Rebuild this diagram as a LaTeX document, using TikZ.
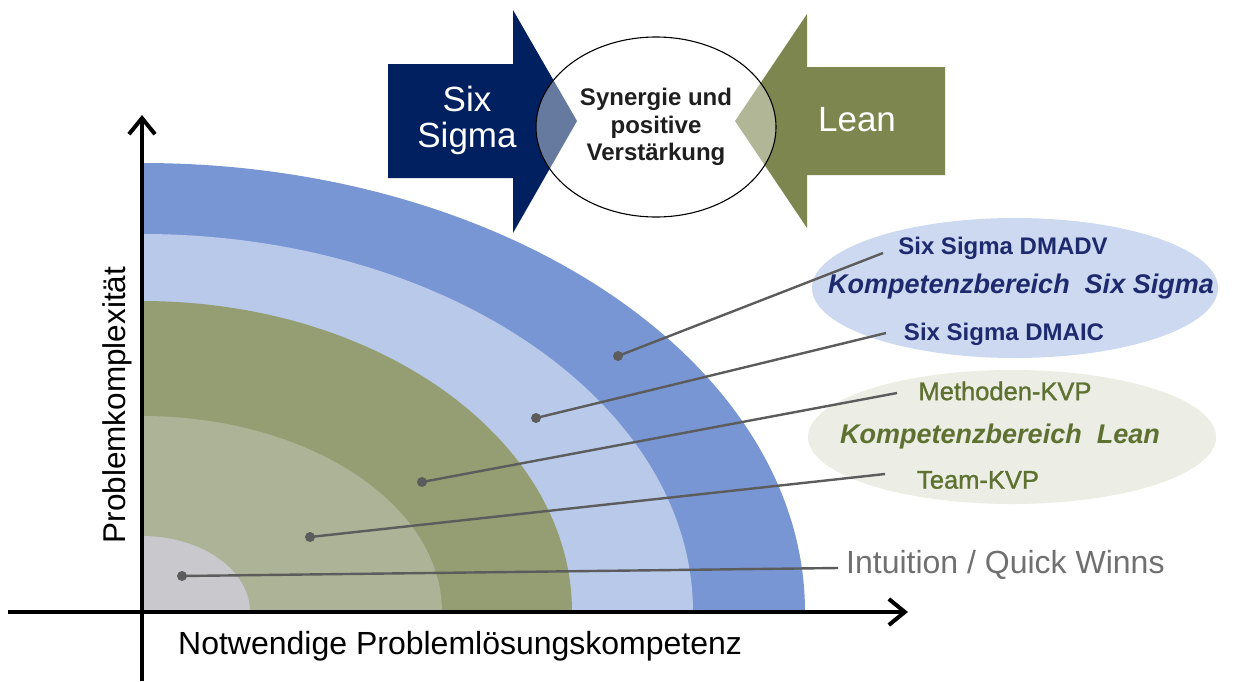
\documentclass[tikz,border=0pt]{standalone}
\usepackage{fontspec}
\setmainfont{Liberation Sans}
\newfontfamily\semibfont[FakeBold=1.2]{Liberation Sans}
\usetikzlibrary{arrows.meta,shapes.geometric}
\definecolor{bandA}{HTML}{7896D4}
\definecolor{bandB}{HTML}{B8C9EA}
\definecolor{bandC}{HTML}{949E72}
\definecolor{bandD}{HTML}{ACB396}
\definecolor{bandE}{HTML}{C8C8CD}
\definecolor{navy}{HTML}{002060}
\definecolor{leangreen}{HTML}{7E8650}
\definecolor{navytext}{HTML}{1E2A6E}
\definecolor{greentext}{HTML}{5E7131}
\definecolor{conngray}{HTML}{5C5C5C}
\definecolor{ssfill}{HTML}{CDD9F0}
\definecolor{leanfill}{HTML}{ECEDE4}
\definecolor{quickgray}{HTML}{707070}
\begin{document}
\begin{tikzpicture}[x=1pt,y=-1pt,
  axis/.style={line width=4pt,black,-{Straight Barb[length=16pt,width=26pt]}},
  dotnode/.style={circle,fill=conngray,minimum size=10pt,inner sep=0pt},
  conn/.style={conngray,line width=2.4pt},
  sslab/.style={text=navytext,font=\bfseries\fontsize{24}{28}\selectfont,inner sep=0pt},
  sshead/.style={text=navytext,font=\bfseries\itshape\fontsize{27}{30}\selectfont,inner sep=0pt},
  leanlab/.style={text=greentext,font=\semibfont\fontsize{25.5}{28}\selectfont,inner sep=0pt},
  leanhead/.style={text=greentext,font=\bfseries\itshape\fontsize{27}{30}\selectfont,inner sep=0pt},
  axlab/.style={text=black,inner sep=0pt},
  bigwhite/.style={text=white,font=\fontsize{35}{36}\selectfont,align=center,inner sep=0pt}
]
\useasboundingbox[fill=white] (0,0) rectangle (1233,681);

% quarter-ellipse bands
\fill[bandA] (142,612) -- (142,163) arc[start angle=90,end angle=0,x radius=663pt,y radius=449pt] -- cycle;
\fill[bandB] (142,612) -- (142,234) arc[start angle=90,end angle=0,x radius=551pt,y radius=378pt] -- cycle;
\fill[bandC] (142,612) -- (142,301) arc[start angle=90,end angle=0,x radius=430pt,y radius=311pt] -- cycle;
\fill[bandD] (142,612) -- (142,416) arc[start angle=90,end angle=0,x radius=300pt,y radius=196pt] -- cycle;
\fill[bandE] (142,612) -- (142,536) arc[start angle=90,end angle=0,x radius=108pt,y radius=76pt] -- cycle;

% label ellipses
\node[ellipse,fill=ssfill,minimum width=406pt,minimum height=140pt,inner sep=0pt] (ssell) at (1015,288) {};
\node[ellipse,fill=leanfill,minimum width=408pt,minimum height=134pt,inner sep=0pt] (leanell) at (1012,437) {};

% labels
\node[sslab] (t1) at (1003,248) {Six Sigma DMADV};
\node[sshead] (kss) at (1021,287) {Kompetenzbereich\ \ Six\ Sigma};
\node[sslab] (t2) at (1004,334) {Six Sigma DMAIC};
\node[leanlab] (t3) at (1005,391) {Methoden-KVP};
\node[leanhead] (kl) at (1000,437) {Kompetenzbereich\ \ Lean};
\node[leanlab] (t4) at (978,480) {Team-KVP};
\node[text=quickgray,font=\fontsize{32}{34}\selectfont,anchor=west,inner sep=0pt] (t5) at (846,565) {Intuition / Quick Winns};

% dots
\node[dotnode] (d1) at (618,356) {};
\node[dotnode] (d2) at (536,418) {};
\node[dotnode] (d3) at (422,482) {};
\node[dotnode] (d4) at (310,537) {};
\node[dotnode] (d5) at (182,576) {};

% connector ends
\coordinate (e1) at (883,253);
\coordinate (e2) at (886,333);
\coordinate (e3) at (897,393);
\coordinate (e4) at (885,474);
\coordinate (e5) at (838,568);

\draw[conn] (d1.center) -- (e1);
\draw[conn] (d2.center) -- (e2);
\draw[conn] (d3.center) -- (e3);
\draw[conn] (d4.center) -- (e4);
\draw[conn] (d5.center) -- (e5);

% axes
\coordinate (yb) at (142,681);
\coordinate (yt) at (142,115);
\coordinate (xl) at (8,612);
\coordinate (xr) at (908,612);
\draw[axis] (yb) -- (yt);
\draw[axis] (xl) -- (xr);

\node[axlab,font=\fontsize{32}{34}\selectfont,anchor=west] (xlab) at (178,646) {Notwendige Problemlösungskompetenz};
\node[axlab,font=\fontsize{31.5}{33}\selectfont,rotate=90] (ylab) at (117,405) {Problemkomplexität};

% top arrows
\fill[navy] (388,64) -- (513,64) -- (513,10) -- (577,121) -- (513,233) -- (513,178) -- (388,178) -- cycle;
\fill[leangreen] (945,67) -- (807,67) -- (807,14) -- (735,121) -- (807,228) -- (807,175) -- (945,175) -- cycle;
\node[bigwhite] (ss) at (467,120) {Six\\Sigma};
\node[bigwhite] (lean) at (857,120) {Lean};

% synergy ellipse
\node[ellipse,draw=black,line width=1.1pt,fill=white,fill opacity=0.4,text opacity=1,
      minimum width=240pt,minimum height=180pt,inner sep=0pt,
      font=\bfseries\fontsize{24}{27.5}\selectfont,align=center,text=black!88] (syn) at (656,127)
      {Synergie und\\positive\\Verstärkung};
\end{tikzpicture}
\end{document}
